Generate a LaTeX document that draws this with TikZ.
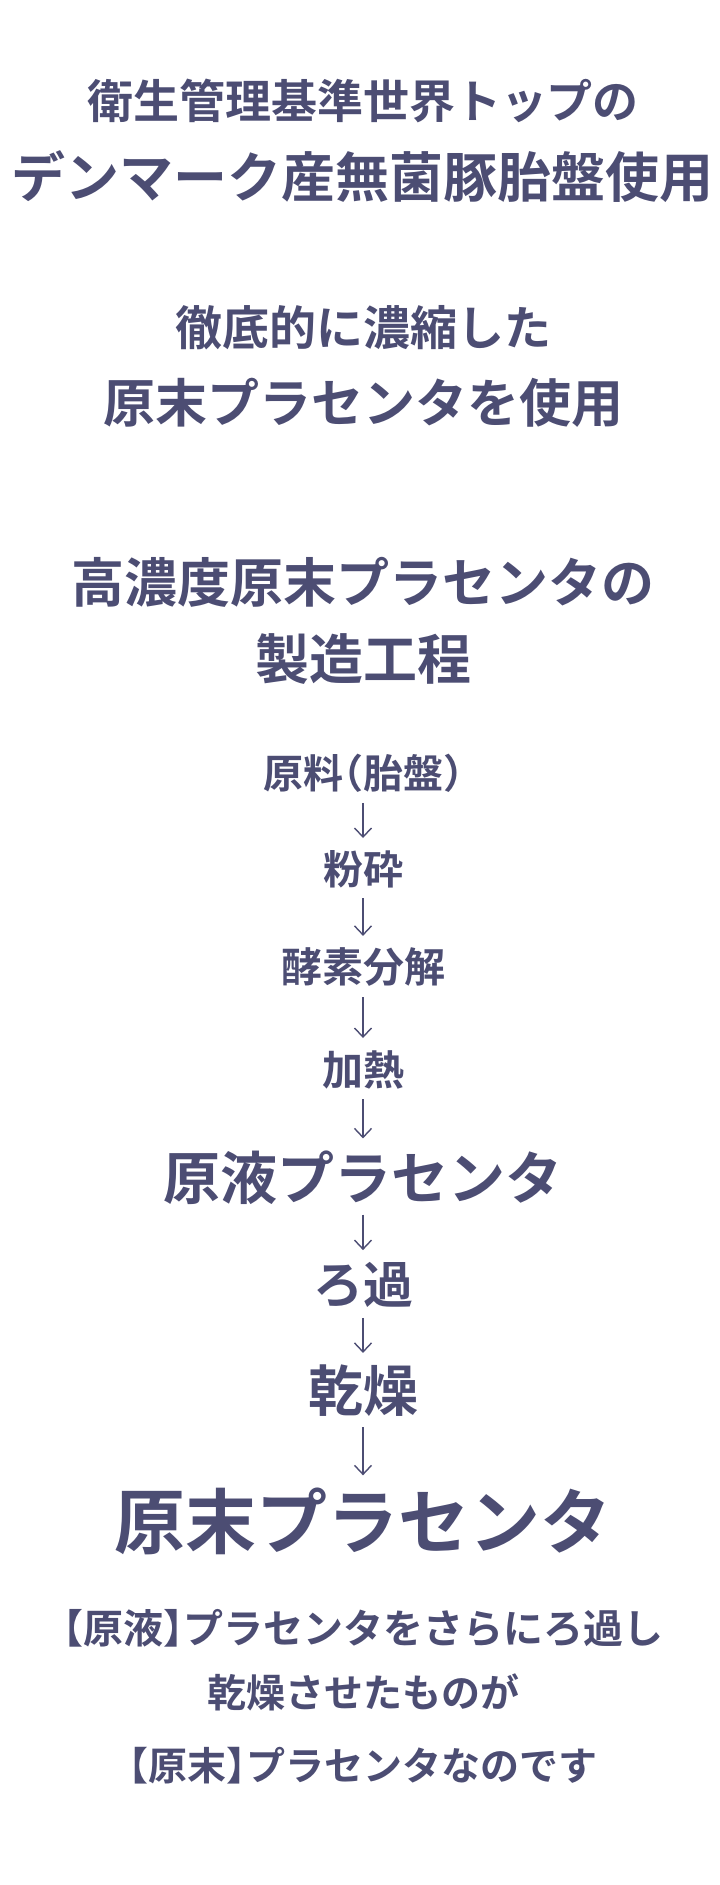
\documentclass[tikz,border=0pt]{standalone}
\usepackage{fontspec}
\usetikzlibrary{arrows.meta}
\newfontfamily\jp{Noto Sans CJK JP}[BoldFont={* Bold}]
\newcommand\halfpunct{\addfontfeature{RawFeature=+halt}}
\definecolor{placenta}{RGB}{76,77,115}
\tikzstyle{every node}=[inner sep=0pt, text=placenta]
\tikzstyle{flow}=[draw=placenta, line width=1.4pt, -{Straight Barb[length=9pt,width=17pt]},
    shorten <=10pt, shorten >=12pt]
\tikzset{ja/.style={font=\jp\bfseries\fontsize{#1pt}{#1pt}\selectfont}}

\begin{document}
\begin{tikzpicture}[x=1pt, y=-1pt]
            \useasboundingbox (0,0) rectangle (720,1885);

            % headline
            \node[ja=46] (title1) at (363, 101)   {衛生管理基準世界トップの};
            \node[ja=54] (title2) at (363, 177)   {デンマーク産無菌豚胎盤使用};
            \node[ja=47] (conc1)  at (363, 327.5) {徹底的に濃縮した};
            \node[ja=52] (conc2)  at (363, 402.5) {原末プラセンタを使用};
            \node[ja=53] (proc1)  at (363, 582.5) {高濃度原末プラセンタの};
            \node[ja=54] (proc2)  at (363, 659.5) {製造工程};

            % process steps
            \node[ja=40] (raw)    at (363, 773.5) {\halfpunct 原料（胎盤）};
            \node[ja=40] (crush)  at (363, 869)   {粉砕};
            \node[ja=41] (enzyme) at (363, 967.5) {酵素分解};
            \node[ja=41] (heat)   at (363, 1069.5){加熱};
            \node[ja=57] (liquid) at (363, 1177.5){原液プラセンタ};
            \node[ja=50] (filter) at (363, 1285)  {ろ過};
            \node[ja=55] (dry)    at (363, 1391)  {乾燥};
            \node[ja=71] (powder) at (363, 1521)  {原末プラセンタ};

            \draw[flow] (raw) -- (crush);
            \draw[flow] (crush) -- (enzyme);
            \draw[flow] (enzyme) -- (heat);
            \draw[flow] (heat) -- (liquid);
            \draw[flow] (liquid) -- (filter);
            \draw[flow] (filter) -- (dry);
            \draw[flow] (dry) -- (powder);

            % closing note
            \node[ja=40] (note1) at (363, 1628)   {\halfpunct 【原液】プラセンタをさらにろ過し};
            \node[ja=39] (note2) at (363, 1692.5) {乾燥させたものが};
            \node[ja=39] (note3) at (363, 1765.5) {\halfpunct 【原末】プラセンタなのです};
\end{tikzpicture}
\end{document}
